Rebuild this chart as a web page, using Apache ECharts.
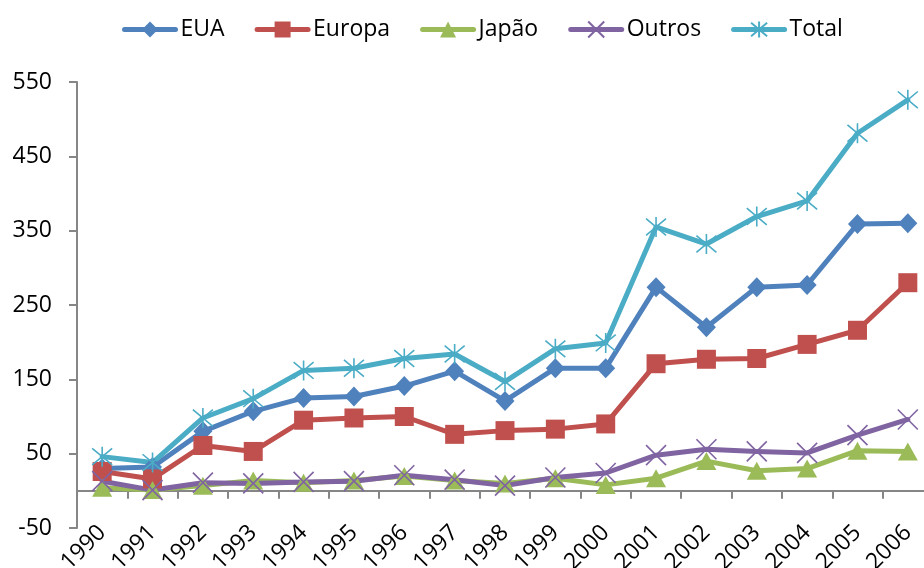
<!DOCTYPE html>
<html>
<head>
<meta charset="utf-8">
<script src="https://cdn.jsdelivr.net/npm/echarts@6/dist/echarts.min.js"></script>
<style>
html,body{margin:0;padding:0;background:#fff;}
#chart{width:924px;height:568px;}
</style>
</head>
<body>
<div id="chart"></div>
<script>
const years = ['1990','1991','1992','1993','1994','1995','1996','1997','1998','1999','2000','2001','2002','2003','2004','2005','2006'];
const eua    = [30, 32, 80, 107, 125, 127, 141, 161, 121, 165, 165, 274, 220, 274, 277, 359, 360];
const europa = [26, 16, 61, 53, 95, 98, 100, 76, 81, 83, 90, 171, 177, 178, 197, 216, 280];
const japao  = [4, 1, 7, 14, 11, 14, 20, 14, 10, 17, 8, 17, 40, 27, 30, 54, 53];
const outros = [13, 1, 11, 10, 12, 13, 21, 15, 7, 18, 24, 48, 56, 53, 51, 75, 96];
const total  = [46, 38, 98, 124, 162, 165, 178, 184, 147, 191, 199, 355, 332, 369, 390, 481, 526];
const yTicks = [-50, 50, 150, 250, 350, 450, 550];

const FONT = 'Open Sans';
const X_PATH = 'path://M0,0L10,10M10,0L0,10';
const STAR_PATH = 'path://M0,0L10,10M10,0L0,10M5,-1L5,11';

function mk(name, data, color, symbol, size, stroked) {
  return {
    name: name,
    type: 'line',
    data: data,
    symbol: symbol,
    symbolSize: size,
    showSymbol: true,
    lineStyle: { color: color, width: 5, cap: 'round', join: 'round' },
    itemStyle: stroked
      ? { color: color, borderColor: color, borderWidth: 1.6 }
      : { color: color, borderWidth: 0 },
    emphasis: { disabled: true }
  };
}

const chart = echarts.init(document.getElementById('chart'), null, { renderer: 'canvas' });
chart.setOption({
  animation: false,
  backgroundColor: '#ffffff',
  textStyle: { fontFamily: FONT },
  legend: {
    left: 122,
    top: 18,
    padding: 0,
    itemWidth: 51,
    itemHeight: 20,
    itemGap: 30,
    lineStyle: { width: 5, cap: 'round' },
    textStyle: { fontFamily: FONT, fontSize: 23, color: '#000' },
    data: ['EUA', 'Europa', 'Japão', 'Outros', 'Total']
  },
  grid: { left: 77, top: 82, width: 856, height: 446, containLabel: false, outerBoundsMode: 'none' },
  xAxis: {
    type: 'category',
    data: years,
    boundaryGap: true,
    axisLine: { show: true, onZero: true, lineStyle: { color: '#868686', width: 2 } },
    axisTick: { show: true, interval: 0, length: 8, lineStyle: { color: '#868686', width: 2 } },
    axisLabel: { interval: 0, rotate: 45, margin: 1, fontFamily: FONT, fontSize: 23, color: '#000' },
    splitLine: { show: false }
  },
  yAxis: {
    type: 'value',
    min: yTicks[0],
    max: yTicks[yTicks.length - 1],
    interval: 100,
    axisLine: { show: true, lineStyle: { color: '#868686', width: 2 } },
    axisTick: { show: true, length: 8, lineStyle: { color: '#868686', width: 2 } },
    axisLabel: { margin: 25, fontFamily: FONT, fontSize: 23, color: '#000' },
    splitLine: { show: false }
  },
  series: [
    mk('EUA', eua, '#4F81BD', 'diamond', [19, 20], false),
    mk('Europa', europa, '#C0504D', 'rect', 19, false),
    mk('Japão', japao, '#9BBB59', 'triangle', [20, 18], false),
    mk('Outros', outros, '#8064A2', X_PATH, 20, true),
    mk('Total', total, '#4BACC6', STAR_PATH, 20, true)
  ]
});
</script>
</body>
</html>
